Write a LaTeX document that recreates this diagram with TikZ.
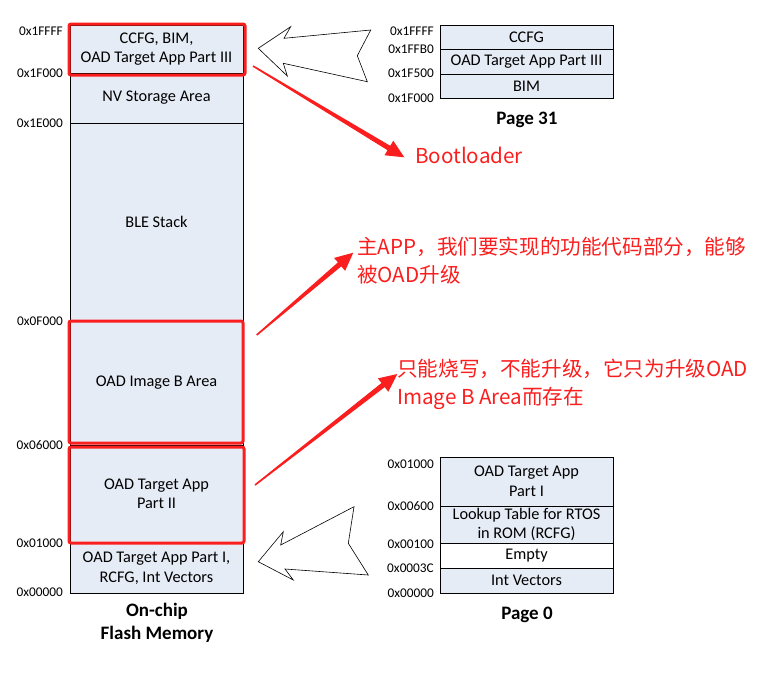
\documentclass[tikz,border=0pt]{standalone}
\usepackage{fontspec}
\setmainfont{Carlito}
\newfontfamily\cjk{Noto Sans CJK SC}
\usetikzlibrary{calc}
\definecolor{cellfill}{RGB}{230,236,246}
\definecolor{hlred}{RGB}{250,30,30}
\tikzset{
 cell/.style={draw=black, line width=0.9pt, fill=cellfill, minimum width=173pt, inner sep=0pt, align=center, font=\fontsize{16.3}{19.5}\selectfont},
 addr/.style={anchor=east, inner sep=0pt, font=\fontsize{13.3}{15}\selectfont},
 capt/.style={font=\bfseries\fontsize{19}{22.5}\selectfont, align=center, inner sep=0pt},
 hl/.style={draw=hlred, line width=3pt, rounded corners=2pt},
 note/.style={text=hlred, font=\cjk\fontsize{20.6}{28}\selectfont, align=left, anchor=west, inner sep=0pt},
 hollow/.style={draw=black, line width=0.6pt, fill=white, line join=miter},
}
\newcommand\redarrow[2]{%
 \coordinate (hb) at ($(#2)!18pt!(#1)$);
 \fill[hlred] ($(#1)!0.8pt!90:(#2)$) -- ($(hb)!2.6pt!90:(#2)$) -- ($(hb)!8.5pt!90:(#2)$) -- (#2)
   -- ($(hb)!8.5pt!-90:(#2)$) -- ($(hb)!2.6pt!-90:(#2)$) -- ($(#1)!0.8pt!-90:(#2)$) -- cycle;
}
\begin{document}
\begin{tikzpicture}[x=1pt,y=-1pt]
\useasboundingbox (0,0) rectangle (784,681);
% left column
\node[cell, minimum height=48pt] (l1) at (156.5,49) {CCFG, BIM,\\OAD Target App Part III};
\node[cell, minimum height=50pt] (l2) at (156.5,98) {NV Storage Area};
\node[cell, minimum height=198pt] (l3) at (156.5,222) {BLE Stack};
\node[cell, minimum height=124pt] (l4) at (156.5,383) {OAD Image B Area};
\node[cell, minimum height=98pt] (l5) at (156.5,494) {OAD Target App\\Part II};
\node[cell, minimum height=50pt] (l6) at (156.5,568) {OAD Target App Part I,\\RCFG, Int Vectors};
\node[capt] (lcap) at (157,623) {On-chip\\Flash Memory};
% left addresses
\node[addr] (a1) at (63,31) {0x1FFFF};
\node[addr] (a2) at (63,73) {0x1F000};
\node[addr] (a3) at (63,123) {0x1E000};
\node[addr] (a4) at (63,321) {0x0F000};
\node[addr] (a5) at (63,445) {0x06000};
\node[addr] (a6) at (63,543) {0x01000};
\node[addr] (a7) at (63,592) {0x00000};
% highlights
\draw[hl] (69,24) rectangle (245,75);
\draw[hl] (69,321) rectangle (243,443);
\draw[hl] (69,447) rectangle (244,543);
% page 31
\node[cell, minimum height=24pt] (t1) at (526.5,37) {CCFG};
\node[cell, minimum height=25pt] (t2) at (526.5,61.5) {OAD Target App Part III};
\node[cell, minimum height=24pt] (t3) at (526.5,86) {BIM};
\node[capt] (tcap) at (527,120) {Page 31};
\node[addr] (b1) at (434,31) {0x1FFFF};
\node[addr] (b2) at (434,49) {0x1FFB0};
\node[addr] (b3) at (434,73) {0x1F500};
\node[addr] (b4) at (434,98) {0x1F000};
% page 0
\node[cell, minimum height=49pt] (p1) at (526.5,481.5) {OAD Target App\\Part I};
\node[cell, minimum height=37pt] (p2) at (526.5,524.5) {Lookup Table for RTOS\\in ROM (RCFG)};
\node[cell, minimum height=25pt, fill=white] (p3) at (526.5,555.5) {Empty};
\node[cell, minimum height=25pt] (p4) at (526.5,580.5) {Int Vectors};
\node[capt] (pcap) at (527,615) {Page 0};
\node[addr] (c1) at (434,464) {0x01000};
\node[addr] (c2) at (434,506) {0x00600};
\node[addr] (c3) at (434,544) {0x00100};
\node[addr] (c4) at (434,568) {0x0003C};
\node[addr] (c5) at (434,593) {0x00000};
% hollow arrows
\draw[hollow] (258.3,48.3) -- (290.7,26.7) -- (284,38.3) -- (370.7,30) -- (357.3,55.7) -- (367.3,81.7) -- (283.3,63.3) -- (287.3,76) -- cycle;
\draw[hollow] (258.3,561.7) -- (283.3,531.7) -- (280.7,545) -- (354,506.7) -- (348.3,543.3) -- (368.3,575) -- (285,569) -- (293.3,580) -- cycle;
% notes
\node[note] (n1) at (415,155) {Bootloader};
\node[note] (n2) at (357,261) {主APP，我们要实现的功能代码部分，能够\\被OAD升级};
\node[note] (n3) at (397,384) {只能烧写，不能升级，它只为升级OAD\\Image B Area而存在};
% red arrows
\coordinate (s1) at (253,66);
\coordinate (e1) at (404.3,157.3);
\coordinate (s2) at (256.7,335);
\coordinate (e2) at (353.3,252.7);
\coordinate (s3) at (255,485);
\coordinate (e3) at (397.3,374);
\redarrow{s1}{e1}
\redarrow{s2}{e2}
\redarrow{s3}{e3}
\end{tikzpicture}
\end{document}
